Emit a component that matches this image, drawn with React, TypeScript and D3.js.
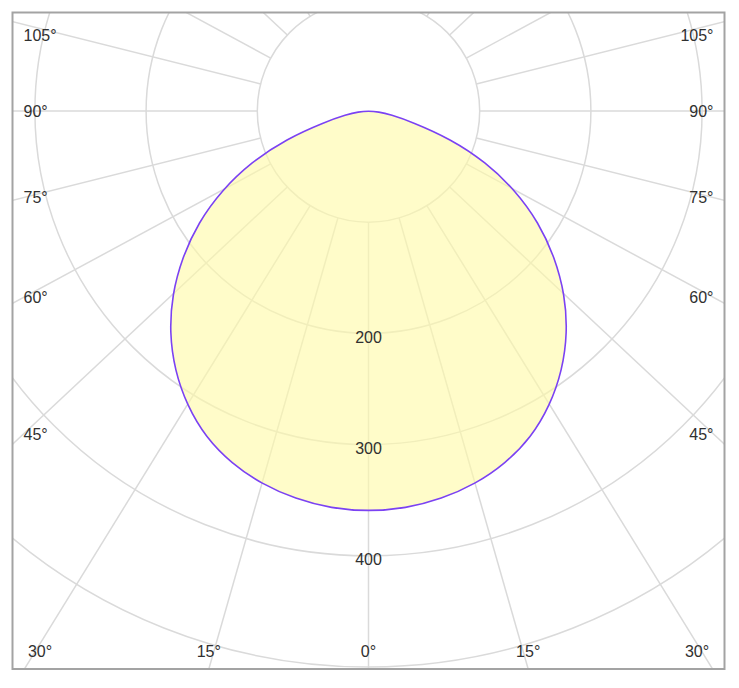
import React from "react";
import * as d3 from "d3";

// ---- data ----
const angleTicks = [0, 15, 30, 45, 60, 75, 90, 105];
const gridAngles = d3.range(0, 360, 15);
const radialTicks = [100, 200, 300, 400, 500, 600, 700];
const radialLabels = [200, 300, 400];
const curveAngles = [0, 5, 10, 15, 20, 25, 30, 35, 40, 45, 50, 55, 60, 65, 70, 75, 80, 85, 90];
const curveValues = [360, 359, 355, 349, 340, 328, 311, 291, 268, 242, 213, 183, 150, 115, 78, 40, 20, 9, 0];

// ---- layout ----
const W = 739;
const H = 688;
const frame = { x0: 12.5, y0: 12.5, x1: 724.5, y1: 669 };
const cx = (frame.x0 + frame.x1) / 2;
const cy = 111;
const K = 1.068; // horizontal stretch of angular directions
const rScale = d3.scaleLinear().domain([0, 100]).range([0, 111.2]);
const FONT = "'Liberation Sans', Arial, Helvetica, sans-serif";

function dir(deg: number): [number, number] {
  const t = (deg * Math.PI) / 180;
  const x = -K * Math.sin(t);
  const y = Math.cos(t);
  const n = Math.hypot(x, y);
  return [x / n, y / n];
}

function labelPos(deg: number) {
  const [dx, dy] = dir(deg);
  const left = 23.5, right = 713.5, bottom = frame.y1;
  let tx = Infinity, ty = Infinity;
  if (dx < -1e-9) tx = (left - cx) / dx;
  if (dx > 1e-9) tx = (right - cx) / dx;
  if (dy > 1e-9) ty = (bottom - cy) / dy;
  if (tx < ty) {
    const y = Math.max(cy + dy * tx, frame.y0 + 23);
    return { x: dx < 0 ? left : right, y, anchor: dx < 0 ? "start" : "end" };
  }
  const x = Math.min(Math.max(cx + dx * ty, frame.x0 + 27.5), frame.x1 - 27.5);
  return { x, y: frame.y1 - 18, anchor: "middle" };
}

export default function App() {
  const pts: [number, number][] = [];
  const n = curveAngles.length;
  for (let i = n - 2; i >= 0; i--) {
    const [dx, dy] = dir(curveAngles[i]);
    const rr = rScale(curveValues[i]);
    pts.push([cx + dx * rr, cy + dy * rr]);
  }
  for (let i = 1; i <= n - 2; i++) {
    const [dx, dy] = dir(-curveAngles[i]);
    const rr = rScale(curveValues[i]);
    pts.push([cx + dx * rr, cy + dy * rr]);
  }
  pts.push([cx, cy]);
  const path = d3.line().curve(d3.curveBasisClosed)(pts) || "";

  const labels: { text: string; x: number; y: number; anchor: string }[] = [];
  angleTicks.forEach((t) => {
    const signs = t === 0 ? [1] : [1, -1];
    signs.forEach((s) => {
      const p = labelPos(s * t);
      labels.push({ text: `${t}°`, ...p });
    });
  });

  return (
    <div style={{ position: "absolute", left: 0, top: 0 }}>
      <svg width={W} height={H} style={{ display: "block", background: "#fff" }}>
        <defs>
          <clipPath id="plotClip">
            <rect x={frame.x0} y={frame.y0} width={frame.x1 - frame.x0} height={frame.y1 - frame.y0} />
          </clipPath>
        </defs>
        <g clipPath="url(#plotClip)">
          {radialTicks.map((v) => (
            <circle key={v} cx={cx} cy={cy} r={rScale(v)} fill="none" stroke="#dadada" strokeWidth={1.5} />
          ))}
          {gridAngles.map((a) => {
            const [dx, dy] = dir(a);
            const r0 = rScale(100);
            const r1 = 1200;
            return (
              <line
                key={a}
                x1={cx + dx * r0}
                y1={cy + dy * r0}
                x2={cx + dx * r1}
                y2={cy + dy * r1}
                stroke="#dadada"
                strokeWidth={1.5}
              />
            );
          })}
          <path d={path} fill="#fffaa8" fillOpacity={0.62} stroke="#7b42f3" strokeWidth={1.6} />
          {radialLabels.map((v) => (
            <text
              key={v}
              x={cx}
              y={cy + rScale(v) + 9.5}
              textAnchor="middle"
              fontFamily={FONT}
              fontSize={16}
              fill="#303030"
            >
              {v}
            </text>
          ))}
        </g>
        {labels.map((l, i) => (
          <text
            key={i}
            x={l.x}
            y={l.y}
            dy="0.36em"
            textAnchor={l.anchor as any}
            fontFamily={FONT}
            fontSize={16}
            fill="#303030"
          >
            {l.text}
          </text>
        ))}
        <rect
          x={frame.x0}
          y={frame.y0}
          width={frame.x1 - frame.x0}
          height={frame.y1 - frame.y0}
          fill="none"
          stroke="#a3a3a3"
          strokeWidth={2}
        />
      </svg>
    </div>
  );
}
